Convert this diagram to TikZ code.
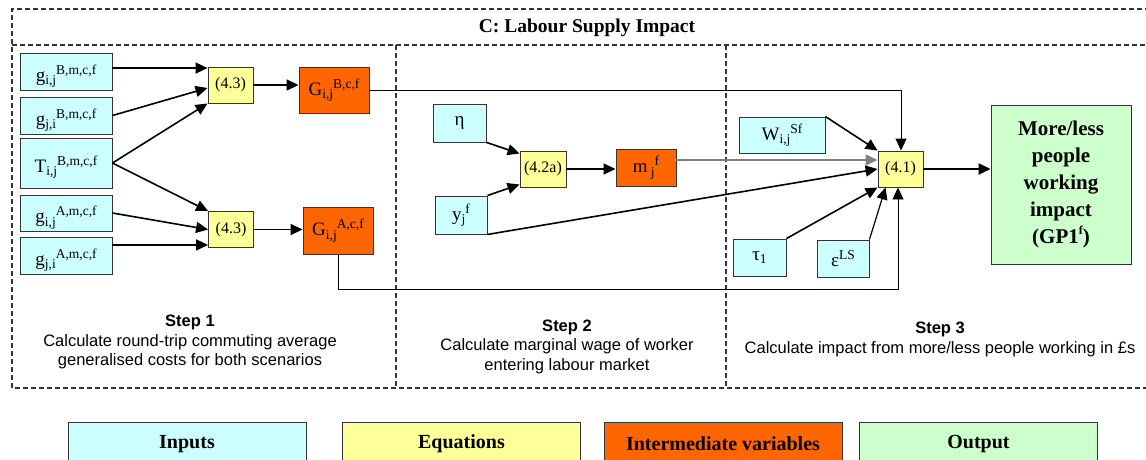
\documentclass[tikz,border=0pt]{standalone}
\usepackage{fontspec}
\setmainfont{Liberation Serif}
\setsansfont{Liberation Sans}
\usetikzlibrary{arrows.meta,calc}

\definecolor{incol}{HTML}{CCFFFF}
\definecolor{eqcol}{HTML}{FFFF99}
\definecolor{imcol}{HTML}{FF6600}
\definecolor{outcol}{HTML}{CCFFCC}
\definecolor{edgegray}{HTML}{333333}

% script size for indices
\newcommand\idxsz{\fontsize{13.5}{13.5}\selectfont}
% base, subscript, then superscript following it
\newcommand\seqidx[3]{#1\raisebox{-3.5pt}{\idxsz #2}\raisebox{7pt}{\idxsz #3}}

\tikzset{
  box/.style={draw=edgegray, line width=0.9pt, inner sep=0pt,
    font=\fontsize{19}{19}\selectfont},
  inbox/.style={box, fill=incol},
  lowtext/.style={text height=20pt, text depth=1pt},
  eqbox/.style={box, fill=eqcol, font=\fontsize{16}{16}\selectfont,
    minimum width=45pt, minimum height=36pt},
  imbox/.style={box, fill=imcol},
  outbox/.style={box, fill=outcol, align=center,
    font=\bfseries\fontsize{21}{27}\selectfont},
  keybox/.style={box, minimum width=238pt, minimum height=44pt,
    font=\bfseries\fontsize{20}{20}\selectfont},
  frameline/.style={dashed, dash pattern=on 5pt off 3pt, line width=1.1pt, draw=black!80},
  tip/.style={-{Triangle[length=12pt,width=11pt]}},
  arr/.style={tip, line width=1.6pt},
  thinarr/.style={tip, line width=0.9pt},
  grayarr/.style={tip, line width=1.4pt, draw=black!50, fill=black!50},
  bigarr/.style={tip, line width=2.3pt},
  steptext/.style={align=center, font=\sffamily\fontsize{16.5}{19.5}\selectfont},
}

\begin{document}
\begin{tikzpicture}[x=1pt, y=-1pt]
\useasboundingbox (0,0) rectangle (1146,459);
\clip (0,0) rectangle (1146,459);
\fill[white] (0,0) rectangle (1146,459);

% panel outline and step columns
\draw[frameline] (1150,9) -- (12,9) -- (12,388) -- (1150,388);
\draw[frameline] (12,45) -- (1150,45);
\draw[frameline] (396,45) -- (396,388);
\draw[frameline] (726,45) -- (726,388);

\node[font=\bfseries\fontsize{19.5}{20}\selectfont] (title) at (587,28) {C: Labour Supply Impact};

% step 1: inputs
\node[inbox, lowtext, minimum width=92pt, minimum height=37pt] (gBij) at (66,71.5) {\seqidx{g}{i,j}{B,m,c,f}};
\node[inbox, lowtext, minimum width=92pt, minimum height=37pt] (gBji) at (66,115.5) {\seqidx{g}{j,i}{B,m,c,f}};
\node[inbox, text height=19pt, text depth=1pt, minimum width=92pt, minimum height=50pt] (TB) at (66,163) {\seqidx{T}{i,j}{B,m,c,f}};
\node[inbox, lowtext, minimum width=92pt, minimum height=36pt] (gAij) at (66,213) {\seqidx{g}{i,j}{A,m,c,f}};
\node[inbox, lowtext, minimum width=92pt, minimum height=37pt] (gAji) at (66,255.5) {\seqidx{g}{j,i}{A,m,c,f}};

\node[eqbox] (e1) at (230.5,85) {(4.3)};
\node[eqbox] (e2) at (231,229.5) {(4.3)};

\node[imbox, minimum width=70pt, minimum height=46pt] (GB) at (334,90) {\seqidx{G}{i,j}{B,c,f}};
\node[imbox, minimum width=70pt, minimum height=47pt] (GA) at (338,230.5) {\seqidx{G}{i,j}{A,c,f}};

% step 2
\node[inbox, minimum width=53pt, minimum height=38pt] (eta) at (459.5,123) {η};
\node[inbox, minimum width=52pt, minimum height=38pt] (yf) at (461,215) {\seqidx{y}{j}{f}};
\node[eqbox, minimum width=46pt] (e3) at (543,169) {(4.2a)};
\node[imbox, minimum width=60pt, minimum height=37pt] (mf) at (646,167.5) {\seqidx{m\,}{j}{f}};

% step 3
\node[inbox, minimum width=86pt, minimum height=36pt] (W) at (782,135) {\seqidx{W}{i,j}{Sf}};
\node[eqbox] (e4) at (900.5,169) {(4.1)};
\node[inbox, minimum width=53pt, minimum height=37pt] (tau) at (759.5,257.5) {τ\raisebox{-3.5pt}{\idxsz 1}};
\node[inbox, minimum width=52pt, minimum height=37pt] (eps) at (843,258.5) {ε\raisebox{7pt}{\idxsz LS}};

\node[outbox, minimum width=140pt, minimum height=159pt] (out) at (1061,184.5)
  {More/less\\people\\working\\impact\\(GP1\raisebox{0.45em}{\fontsize{12}{12}\selectfont f})};

% step 1 connectors
\coordinate (e1a) at ($(e1.north west)+(0,1.5)$);
\draw[arr] (gBij.east |- e1a) -- (e1a);
\draw[arr] (gBji.east) -- ($(e1.west)+(0,3)$);
\draw[arr] (TB.east) -- (e1.south west);
\draw[arr] (TB.east) -- (e2.north west);
\draw[arr] (gAij.east) -- (e2.west);
\coordinate (e2b) at ($(e2.south west)+(0,-3)$);
\draw[arr] (gAji.east |- e2b) -- (e2b);
\draw[arr] (e1.east) -- (e1.east -| GB.west);
\draw[arr] (e2.east) -- (e2.east -| GA.west);

% carried forward to equation 4.1
\draw[thinarr] (GB.east) -| ($(e4.north)+(0.5,0)$);
\coordinate (gaturn) at ($(GA.south)+(0,35)$);
\draw[thinarr] (GA.south) -- (gaturn) -| ($(e4.south)+(-2.5,0)$);

% step 2 connectors
\draw[arr] (eta.south east) -- ($(e3.north west)+(0,3)$);
\draw[arr] (yf.north east) -- ($(e3.south west)+(0,-3)$);
\draw[arr] (e3.east) -- (e3.east -| mf.west);
\coordinate (mline) at ($(e4.west)+(0,-9)$);
\draw[grayarr] (mf.east |- mline) -- (mline);
\draw[arr] (yf.south east) -- (e4.west);

% step 3 connectors
\draw[arr] (W.north east) -- (e4.north west);
\draw[arr] (tau.north east) -- (e4.south west);
\draw[arr, line width=1.2pt] (eps.north east) -- ($(e4.south west)+(8,0)$);
\draw[bigarr] (e4.east) -- (e4.east -| out.west);

% step captions
\node[steptext] (s1) at (190,342) {\textbf{Step 1}\\Calculate round-trip commuting average\\generalised costs for both scenarios};
\node[steptext] (s2) at (567,346.5) {\textbf{Step 2}\\Calculate marginal wage of worker\\entering labour market};
\node[steptext] (s3) at (940,339.5) {\textbf{Step 3}\\Calculate impact from more/less people working in £s};

% key
\node[keybox, fill=incol] (k1) at (187,444) {Inputs};
\node[keybox, fill=eqcol] (k2) at (461.5,444) {Equations};
\node[keybox, fill=imcol] (k3) at (723,444) {Intermediate variables};
\node[keybox, fill=outcol] (k4) at (978.5,444) {Output};
\end{tikzpicture}
\end{document}
